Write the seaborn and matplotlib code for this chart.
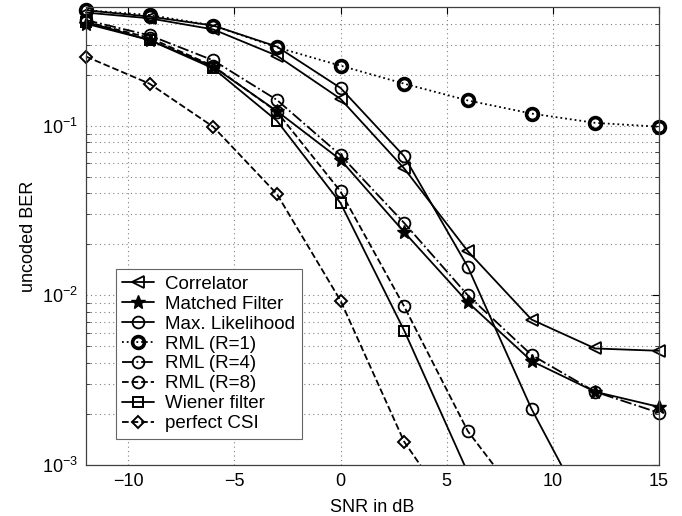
import numpy as np
import pandas as pd
import seaborn as sns
import matplotlib.pyplot as plt
from matplotlib.ticker import LogLocator, FixedLocator, FuncFormatter
from matplotlib.transforms import Bbox, TransformedBbox

# SNR points (dB)
snr = [-12, -9, -6, -3, 0, 3, 6, 9, 12, 15]

# BER values
correlator = [0.465, 0.43, 0.37, 0.259, 0.144, 0.056, 0.0182, 0.0072, 0.00486, 0.00471]
matched_filter = [0.40, 0.32, 0.223, 0.122, 0.063, 0.0236, 0.0091, 0.0041, 0.0027, 0.0022]
max_likelihood = [0.48, 0.44, 0.39, 0.293, 0.167, 0.066, 0.0147, 0.00214, 0.00042]
rml_r1 = [0.48, 0.45, 0.39, 0.29, 0.226, 0.177, 0.141, 0.118, 0.104, 0.0987]
rml_r4 = [0.42, 0.341, 0.243, 0.142, 0.067, 0.0267, 0.0100, 0.00445, 0.0027, 0.00203]
rml_r8 = [0.41, 0.33, 0.225, 0.121, 0.041, 0.0086, 0.00158, 0.00051]
wiener = [0.41, 0.32, 0.218, 0.107, 0.035, 0.0062, 0.0009]
perfect_csi = [0.256, 0.177, 0.0986, 0.0396, 0.0093, 0.00137, 0.00039]

labels = ['Correlator', 'Matched Filter', 'Max. Likelihood', 'RML (R=1)',
          'RML (R=4)', 'RML (R=8)', 'Wiener filter', 'perfect CSI']
series = [correlator, matched_filter, max_likelihood, rml_r1,
          rml_r4, rml_r8, wiener, perfect_csi]

styles = {
    'Correlator':      dict(linestyle='-',  marker='<', ms=9,   mew=1.3, mfc='none'),
    'Matched Filter':  dict(linestyle='-',  marker='*', ms=10,  mew=1.0, mfc='k'),
    'Max. Likelihood': dict(linestyle='-',  marker='o', ms=8.5, mew=1.3, mfc='none'),
    'RML (R=1)':       dict(linestyle=':',  marker='o', ms=8.5, mew=2.6, mfc='none'),
    'RML (R=4)':       dict(linestyle='-.', marker='o', ms=8.5, mew=1.3, mfc='none'),
    'RML (R=8)':       dict(linestyle='--', marker='o', ms=8.5, mew=1.3, mfc='none'),
    'Wiener filter':   dict(linestyle='-',  marker='s', ms=7,   mew=1.4, mfc='none'),
    'perfect CSI':     dict(linestyle='--', marker='D', ms=6.5, mew=1.4, mfc='none'),
}

sns.set_style('white')
plt.rcParams['font.family'] = ['Liberation Sans', 'DejaVu Sans']
plt.rcParams['mathtext.fontset'] = 'custom'
plt.rcParams['mathtext.rm'] = 'Liberation Sans'
plt.rcParams['mathtext.it'] = 'Liberation Sans'
plt.rcParams['axes.unicode_minus'] = True
plt.rcParams['text.color'] = 'k'
plt.rcParams['axes.labelcolor'] = 'k'

fig = plt.figure(figsize=(6.82, 5.16), dpi=100)
ax = fig.add_axes([0.126, 0.099, 0.840, 0.887])

for lab, vals in zip(labels, series):
    df = pd.DataFrame({'snr': snr[:len(vals)], 'ber': vals})
    st = styles[lab]
    sns.lineplot(data=df, x='snr', y='ber', ax=ax, color='k', linewidth=1.3,
                 linestyle=st['linestyle'], marker=st['marker'],
                 markersize=st['ms'], markeredgewidth=st['mew'],
                 markerfacecolor=st['mfc'], markeredgecolor='k',
                 label=lab)

# markers at the left/right edges are not cut, lines still stop at the bottom
clip = TransformedBbox(Bbox([[-0.04, 0.0], [1.04, 1.03]]), ax.transAxes)
for line in ax.get_lines():
    line.set_clip_box(clip)

ax.set_yscale('log')
ax.set_xlim(-12, 15)
ax.set_ylim(1e-3, 0.5)
ax.xaxis.set_major_locator(FixedLocator([-10, -5, 0, 5, 10, 15]))
ax.xaxis.set_major_formatter(FuncFormatter(lambda v, p: f'{v:.0f}'.replace('-', '\u2212')))
ax.yaxis.set_major_locator(LogLocator(base=10, numticks=10))
ax.yaxis.set_minor_locator(LogLocator(base=10, subs=np.arange(2, 10), numticks=20))
ax.yaxis.set_major_formatter(FuncFormatter(lambda v, p: r'$10^{%d}$' % round(np.log10(v))))

ax.grid(True, which='major', axis='both', linestyle=(0, (1, 3)), color='0.5', linewidth=0.8)
ax.grid(True, which='minor', axis='y', linestyle=(0, (1, 3)), color='0.5', linewidth=0.8)
ax.set_axisbelow(True)

ax.tick_params(axis='both', which='major', direction='in', length=5, width=0.8,
               top=True, right=True, labelsize=13, colors='k', pad=6)
ax.tick_params(axis='y', which='minor', direction='in', length=3, width=0.6,
               left=True, right=True)
for sp in ax.spines.values():
    sp.set_color('0.25')
    sp.set_linewidth(0.9)

ax.set_xlabel('SNR in dB', fontsize=13, labelpad=6)
ax.set_ylabel('uncoded BER', fontsize=13, labelpad=3)

leg = ax.legend(loc='lower left', bbox_to_anchor=(0.052, 0.057), fontsize=13.5,
                frameon=True, fancybox=False, edgecolor='0.4', framealpha=1,
                handlelength=1.7, handletextpad=0.6, borderpad=0.35,
                labelspacing=0.15, borderaxespad=0)
leg.get_frame().set_linewidth(0.8)

plt.savefig('out.png', dpi=100)
